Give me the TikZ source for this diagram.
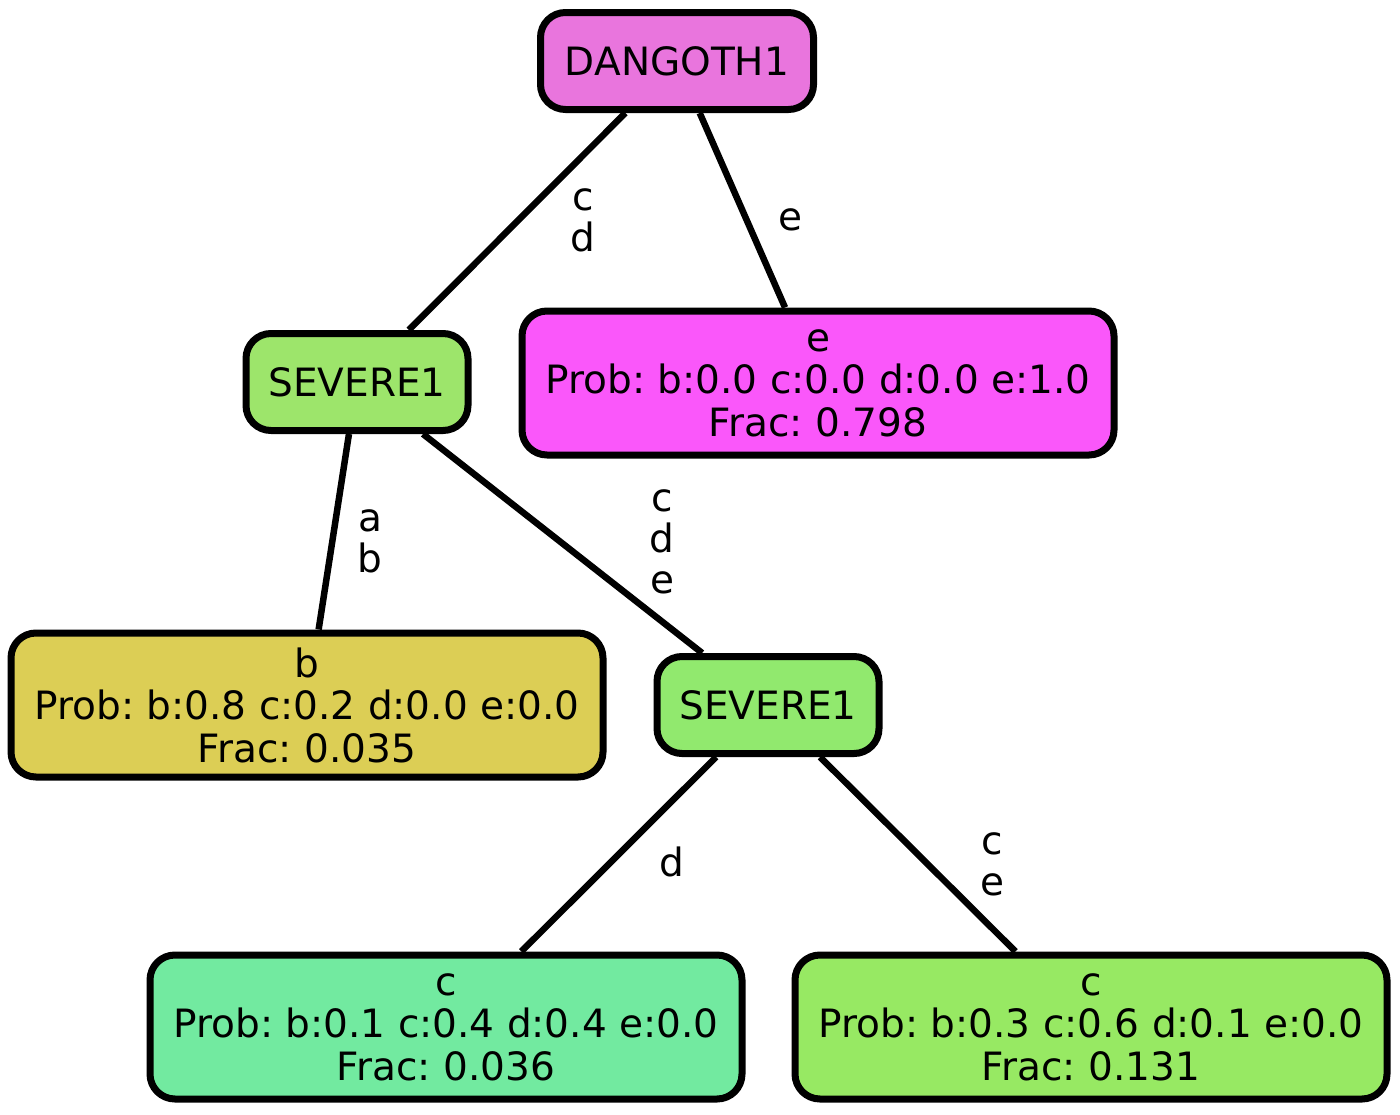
\documentclass[tikz,border=0pt]{standalone}
\usepackage{fontspec}
\setmainfont{DejaVu Sans}
\frenchspacing
\definecolor{dangcol}{HTML}{E975DD}
\definecolor{sevacol}{HTML}{9DE56B}
\definecolor{sevbcol}{HTML}{91E96E}
\definecolor{ecol}{HTML}{FA57FA}
\definecolor{bcol}{HTML}{DCCE55}
\definecolor{cacol}{HTML}{72EAA0}
\definecolor{cbcol}{HTML}{97E963}
\tikzset{
  treenode/.style={rectangle, draw, line width=7pt, rounded corners=25pt, inner sep=0pt, align=center,
    font=\fontsize{39}{42.5}\selectfont},
  splitnode/.style={treenode, minimum width=222pt, minimum height=97pt},
  leafnode/.style={treenode, minimum width=592pt, minimum height=144pt},
  edgelabel/.style={align=center, inner sep=0pt, font=\fontsize{39}{41}\selectfont},
  treeedge/.style={line width=6.5pt}
}
\begin{document}
\begin{tikzpicture}[x=1pt, y=-1pt]
      \useasboundingbox (0,0) rectangle (1400,1114);
      % Nodes
      \node (dangoth) [splitnode, fill=dangcol, minimum width=273pt] at (677,61) {DANGOTH1};
      \node (severea) [splitnode, fill=sevacol] at (357,382) {SEVERE1};
      \node (leafe) [leafnode, fill=ecol] at (818,383) {e\\Prob: b:0.0 c:0.0 d:0.0 e:1.0\\Frac: 0.798};
      \node (leafb) [leafnode, fill=bcol] at (307,705) {b\\Prob: b:0.8 c:0.2 d:0.0 e:0.0\\Frac: 0.035};
      \node (severeb) [splitnode, fill=sevbcol] at (768,705) {SEVERE1};
      \node (leafca) [leafnode, fill=cacol] at (446,1027) {c\\Prob: b:0.1 c:0.4 d:0.4 e:0.0\\Frac: 0.036};
      \node (leafcb) [leafnode, fill=cbcol] at (1091,1027) {c\\Prob: b:0.3 c:0.6 d:0.1 e:0.0\\Frac: 0.131};

      % Labels
      \node (labcd) [edgelabel] at (583,220) {c\\d};
      \node (labe) [edgelabel] at (790,220) {e};
      \node (labab) [edgelabel] at (370,541) {a\\b};
      \node (labcde) [edgelabel] at (662,542) {c\\d\\e};
      \node (labd) [edgelabel] at (672,862) {d};
      \node (labce) [edgelabel] at (992,864) {c\\e};

      % Edges
      \draw [treeedge] (dangoth) -- (severea);
      \draw [treeedge] (dangoth) -- (leafe);
      \draw [treeedge] (severea) -- (leafb);
      \draw [treeedge] (severea) -- (severeb);
      \draw [treeedge] (severeb) -- (leafca);
      \draw [treeedge] (severeb) -- (leafcb);
  \end{tikzpicture}
\end{document}
